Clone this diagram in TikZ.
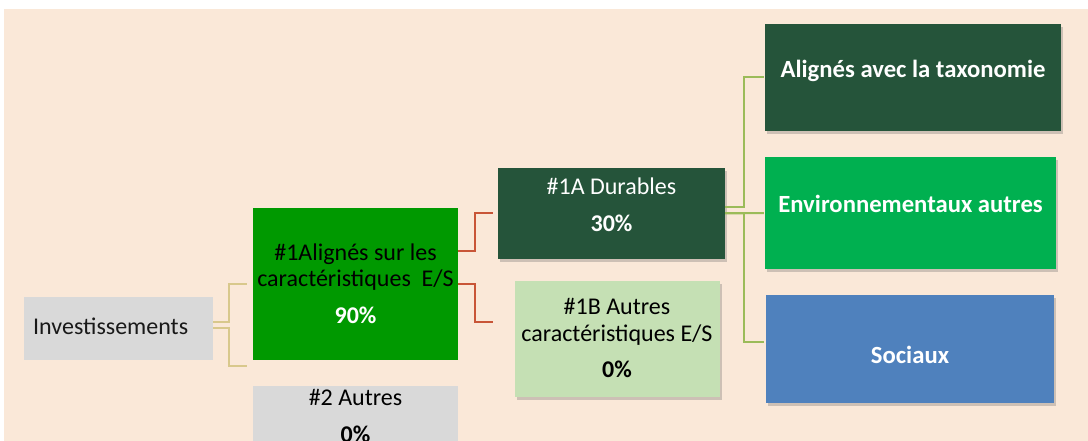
\documentclass[tikz,border=0pt]{standalone}
\usepackage{fontspec}
\setmainfont{Carlito}
\usetikzlibrary{shadows}

\definecolor{peach}{RGB}{250,232,216}
\definecolor{boxgray}{RGB}{217,217,217}
\definecolor{esgreen}{RGB}{0,153,0}
\definecolor{darkgreen}{RGB}{37,84,58}
\definecolor{palegreen}{RGB}{197,224,180}
\definecolor{brightgreen}{RGB}{0,176,80}
\definecolor{socialblue}{RGB}{79,129,189}
\definecolor{tanline}{RGB}{216,200,140}
\definecolor{redline}{RGB}{200,85,55}
\definecolor{oliveline}{RGB}{155,187,89}

\begin{document}
\begin{tikzpicture}
  [
    x=1pt, y=-1pt,
    line join=miter,
    box/.style={inner sep=0pt, draw=none},
    shade/.style={drop shadow={shadow xshift=2pt, shadow yshift=-3pt, opacity=.3, fill=black!60}},
    txt/.style={font=\fontsize{24}{29}\selectfont, inner sep=0pt, anchor=base},
    num/.style={txt, font=\fontsize{24}{29}\selectfont\bfseries},
    head/.style={txt, font=\fontsize{24.7}{29}\selectfont\bfseries, text=white},
    link/.style={line width=2pt},
  ]

\clip (0,0) rectangle (1088,441);
\useasboundingbox (0,0) rectangle (1088,441);
\fill[white] (0,0) rectangle (1088,441);
\fill[peach] (4,9) rectangle (1088,441);

% boxes
\node[box, fill=boxgray, minimum width=189pt, minimum height=63pt] (invest) at (118.5,328.5) {};
\node[box, fill=esgreen, minimum width=205pt, minimum height=152pt] (align) at (355.5,284) {};
\node[box, fill=boxgray, minimum width=205pt, minimum height=74pt] (autres) at (355.5,423) {};
\node[box, shade, fill=darkgreen, minimum width=227pt, minimum height=91pt] (durable) at (611.5,213.5) {};
\node[box, shade, fill=palegreen, minimum width=205pt, minimum height=116pt] (autresES) at (617.5,339) {};
\node[box, shade, fill=darkgreen, minimum width=296pt, minimum height=107pt] (taxo) at (913,77.5) {};
\node[box, shade, fill=brightgreen, minimum width=291pt, minimum height=112pt] (envir) at (910.5,213) {};
\node[box, shade, fill=socialblue, minimum width=288pt, minimum height=108pt] (social) at (910,349) {};

% texts
\node[txt, anchor=base west, text=black!90] (tInvest) at (33,334) {Investissements};
\node[txt] (tAlignA) at (355.5,260) {\#1Alignés sur les};
\node[txt] (tAlignB) at (355.5,287) {caractéristiques\ \ E/S};
\node[num, text=white] (tAlignC) at (355.5,323) {90\%};
\node[txt] (tAutresA) at (355.5,405) {\#2 Autres};
\node[num] (tAutresB) at (355.5,442) {0\%};
\node[txt, text=white] (tDurA) at (611.5,195) {\#1A Durables};
\node[num, text=white] (tDurB) at (611.5,231) {30\%};
\node[txt] (tEsA) at (617,314) {\#1B Autres};
\node[txt] (tEsB) at (617,341) {caractéristiques E/S};
\node[num] (tEsC) at (617,377) {0\%};
\node[head] (tTaxo) at (913,78) {Alignés avec la taxonomie};
\node[head] (tEnvir) at (910.5,213) {Environnementaux autres};
\node[head] (tSocial) at (910,363) {Sociaux};

% connectors
\draw[link, tanline] ([yshift=6.5pt]invest.east) -- ++(16,0) |- ([xshift=-6pt]align.west);
\draw[link, tanline] ([yshift=.5pt]invest.east) -- ++(16,0) |- ([xshift=-6pt,yshift=57pt]autres.west);

\draw[link, redline] ([yshift=33pt]align.east) -- ++(17,0) |- ([xshift=-5pt]durable.west);
\draw[link, redline] (align.east) -- ++(17,0) |- ([xshift=-22pt,yshift=17pt]autresES.west);

\draw[link, oliveline] ([yshift=6.5pt]durable.east) -- ++(19,0) |- ([xshift=-1pt]taxo.west);
\draw[link, oliveline] (durable.east) -- ([xshift=-1pt]envir.west);
\draw[link, oliveline] (durable.east) -- ++(19,0) |- ([xshift=-2pt,yshift=7pt]social.west);

\end{tikzpicture}
\end{document}
